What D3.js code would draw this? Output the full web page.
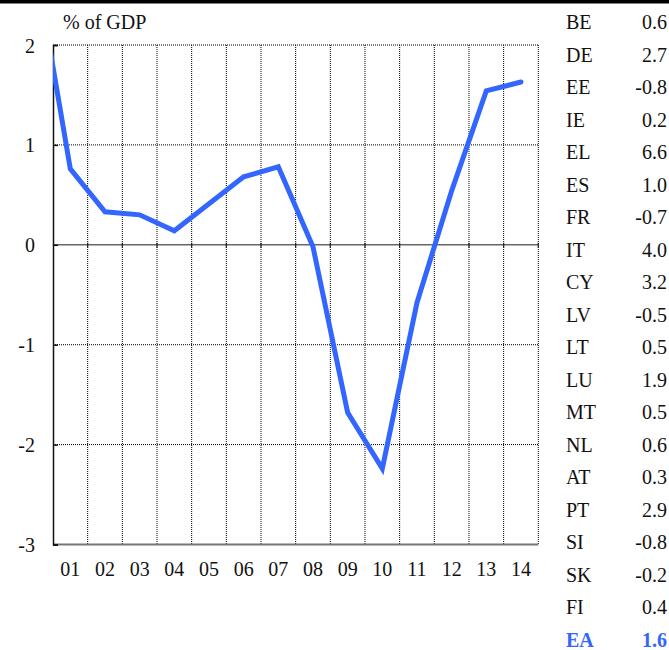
<!DOCTYPE html>
<html>
<head>
<meta charset="utf-8">
<script src="https://cdn.jsdelivr.net/npm/d3@7/dist/d3.min.js"></script>
<style>
  html, body { margin: 0; padding: 0; background: #fff; }
  svg { display: block; }
</style>
</head>
<body>
<svg id="chart" width="669" height="650"></svg>
<script>
// Euro area balance, % of GDP, 2000-2014 (2000 lies left of the plotted window)
const years = [2000, 2001, 2002, 2003, 2004, 2005, 2006, 2007, 2008, 2009, 2010, 2011, 2012, 2013, 2014];
const values = [2.8, 0.76, 0.33, 0.30, 0.14, 0.41, 0.68, 0.78, -0.02, -1.68, -2.24, -0.58, 0.54, 1.54, 1.63];
const tickYears = [2001, 2002, 2003, 2004, 2005, 2006, 2007, 2008, 2009, 2010, 2011, 2012, 2013, 2014];
const yTicks = [2, 1, 0, -1, -2, -3];
const unitLabel = "% of GDP";

// Country table beside the chart
const countries = ["BE", "DE", "EE", "IE", "EL", "ES", "FR", "IT", "CY", "LV", "LT", "LU", "MT", "NL", "AT", "PT", "SI", "SK", "FI", "EA"];
const countryValues = [0.6, 2.7, -0.8, 0.2, 6.6, 1.0, -0.7, 4.0, 3.2, -0.5, 0.5, 1.9, 0.5, 0.6, 0.3, 2.9, -0.8, -0.2, 0.4, 1.6];

const blue = "#3366ff";
const FONT = '"Liberation Serif"';
const FS = 20;
const svg = d3.select("#chart");

const plot = { left: 53, right: 538.3, top: 45, bottom: 544.5 };

const x = d3.scaleLinear().domain([2000.5, 2014.5]).range([plot.left, plot.right]);
const y = d3.scaleLinear().domain([-3, 2]).range([plot.bottom, plot.top]);
const fmtInt = d => String(d);
const fmtOne = d => d.toFixed(1);

// top rule
svg.append("rect").attr("x", 0).attr("y", 0).attr("width", 669).attr("height", 3.5).attr("fill", "#000");

// clip for the series
svg.append("defs").append("clipPath").attr("id", "plotClip")
  .append("rect")
  .attr("x", plot.left).attr("y", plot.top - 10)
  .attr("width", plot.right - plot.left + 10).attr("height", plot.bottom - plot.top + 20);

// vertical gridlines at year boundaries
const boundaries = d3.range(2001.5, 2014.6, 1);
svg.append("g").selectAll("line").data(boundaries).join("line")
  .attr("x1", d => x(d)).attr("x2", d => x(d))
  .attr("y1", plot.top).attr("y2", plot.bottom)
  .attr("stroke", "#000").attr("stroke-width", 1).attr("stroke-dasharray", "1,1");

// horizontal gridlines
svg.append("g").selectAll("line").data(yTicks.filter(d => d !== 0 && d !== -3)).join("line")
  .attr("x1", plot.left).attr("x2", plot.right)
  .attr("y1", d => y(d)).attr("y2", d => y(d))
  .attr("stroke", "#000").attr("stroke-width", 1).attr("stroke-dasharray", "1,1");

// bottom edge
svg.append("line")
  .attr("x1", plot.left).attr("x2", plot.right)
  .attr("y1", y(-3)).attr("y2", y(-3))
  .attr("stroke", "#777").attr("stroke-width", 2);

// zero line with small tick marks
svg.append("line")
  .attr("x1", plot.left).attr("x2", plot.right)
  .attr("y1", y(0)).attr("y2", y(0))
  .attr("stroke", "#666").attr("stroke-width", 1.5);
svg.append("g").selectAll("line").data(boundaries).join("line")
  .attr("x1", d => x(d)).attr("x2", d => x(d))
  .attr("y1", y(0) - 2).attr("y2", y(0) + 3)
  .attr("stroke", "#222").attr("stroke-width", 1.2);

// left axis
const yAxis = d3.axisLeft(y).tickValues(yTicks).tickSize(-5).tickPadding(18).tickFormat(fmtInt);
const gy = svg.append("g").attr("transform", `translate(${plot.left},0)`).call(yAxis);
gy.select(".domain").attr("stroke", "#111").attr("stroke-width", 1.5);
gy.selectAll(".tick line").attr("stroke", "#111").attr("stroke-width", 1.5);
gy.selectAll(".tick text")
  .style("font-family", FONT).style("font-size", FS + "px")
  .attr("fill", "#111")
  .attr("x", 35 - plot.left).attr("dy", "0.35em");

// x labels
svg.append("g").selectAll("text").data(tickYears).join("text")
  .attr("x", d => x(d)).attr("y", 576)
  .attr("text-anchor", "middle")
  .style("font-family", FONT).style("font-size", FS + "px")
  .attr("fill", "#111")
  .text(d => String(d % 100).padStart(2, "0"));

// unit label
svg.append("text").attr("x", 63).attr("y", 29)
  .style("font-family", FONT).style("font-size", FS + "px")
  .attr("fill", "#111").text(unitLabel);

// series line
const line = d3.line().x((d, i) => x(years[i])).y(d => y(d));
svg.append("path")
  .datum(values)
  .attr("clip-path", "url(#plotClip)")
  .attr("d", line)
  .attr("fill", "none")
  .attr("stroke", blue)
  .attr("stroke-width", 5)
  .attr("stroke-linejoin", "miter")
  .attr("stroke-linecap", "round");

// country table
const rowY = d3.scalePoint().domain(countries).range([22, 640]);
const rows = svg.append("g").selectAll("g").data(countries).join("g")
  .attr("transform", d => `translate(0,${rowY(d)})`);
rows.append("text")
  .attr("x", 566).attr("dy", "0.35em")
  .style("font-family", FONT).style("font-size", FS + "px")
  .style("font-weight", d => d === "EA" ? "bold" : "normal")
  .attr("fill", d => d === "EA" ? blue : "#111")
  .text(d => d);
rows.append("text")
  .attr("x", 667).attr("dy", "0.35em").attr("text-anchor", "end")
  .style("font-family", FONT).style("font-size", FS + "px")
  .style("font-weight", d => d === "EA" ? "bold" : "normal")
  .attr("fill", d => d === "EA" ? blue : "#111")
  .text((d, i) => fmtOne(countryValues[i]));
</script>
</body>
</html>
